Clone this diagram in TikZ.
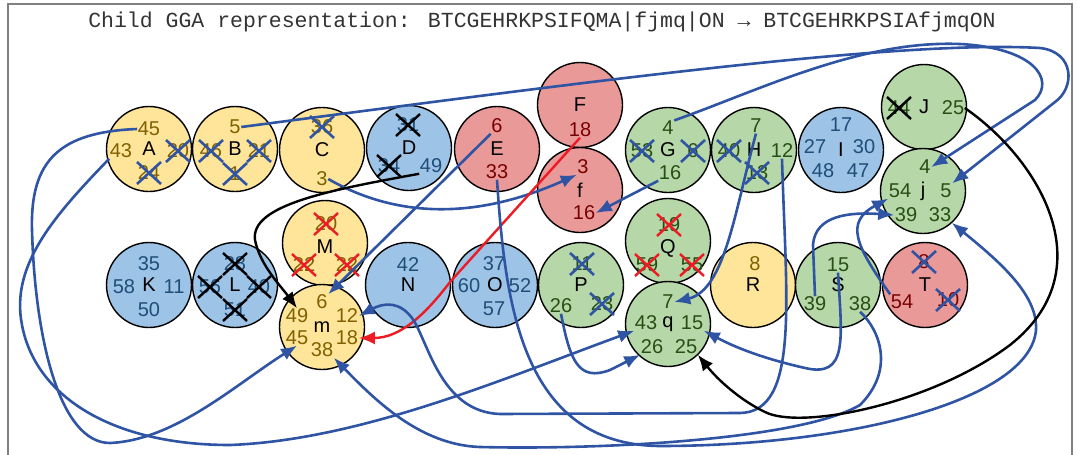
\documentclass[tikz,border=0pt]{standalone}
\usepackage{fontspec}
\setmainfont{Liberation Sans}
\newfontfamily\codefont{Liberation Mono}
\usetikzlibrary{arrows.meta}

\definecolor{ylwfill}{RGB}{255,229,153}
\definecolor{ylwtext}{RGB}{128,96,0}
\definecolor{blufill}{RGB}{157,195,230}
\definecolor{blutext}{RGB}{31,78,121}
\definecolor{redfill}{RGB}{234,153,153}
\definecolor{redtext}{RGB}{120,0,0}
\definecolor{grnfill}{RGB}{182,215,168}
\definecolor{grntext}{RGB}{39,78,19}
\definecolor{linkblue}{RGB}{47,84,164}
\definecolor{cutred}{RGB}{237,28,36}

\tikzset{
  grp/.style={circle,draw=black,line width=1.4pt,minimum size=85pt,inner sep=0pt,
    font=\fontsize{20}{20}\selectfont},
  ygrp/.style={grp,fill=ylwfill},
  bgrp/.style={grp,fill=blufill},
  rgrp/.style={grp,fill=redfill},
  ggrp/.style={grp,fill=grnfill},
  geneid/.style={inner sep=0.5pt,font=\fontsize{20}{20}\selectfont},
  yid/.style={geneid,text=ylwtext},
  bid/.style={geneid,text=blutext},
  rid/.style={geneid,text=redtext},
  gid/.style={geneid,text=grntext},
  >={Latex[length=16pt,width=13pt]},
  link/.style={->,draw=linkblue,line width=2.6pt},
  blink/.style={->,draw=black,line width=2.4pt},
  rlink/.style={->,draw=cutred,line width=2.4pt},
  xb/.style={draw=linkblue,line width=2.6pt},
  xk/.style={draw=black,line width=2.4pt},
  xr/.style={draw=cutred,line width=2.4pt}
}
% crossed-out gene id
\newcommand{\crossid}[2]{\draw[#1] (#2) +(-12,-11) -- +(12,11) +(-12,11) -- +(12,-11);}

\begin{document}
\begin{tikzpicture}[x=1pt,y=-1pt]
\useasboundingbox (0,0) rectangle (1077,455);
\draw[gray,line width=1.2pt] (8,470) -- (8,4) -- (1072,4) -- (1072,470);
\node[font=\codefont\fontsize{21.5}{21.5}\selectfont,text=black!80] (title) at (542,22)
  {Child GGA representation: BTCGEHRKPSIFQMA|fjmq|ON → BTCGEHRKPSIAfjmqON};

% groups
\node[ygrp] (A) at (149,149) {A};
\node[ygrp] (B) at (235,149) {B};
\node[ygrp] (C) at (322,150) {C};
\node[bgrp] (D) at (409,148) {D};
\node[rgrp] (E) at (497,149) {E};
\node[rgrp] (F) at (580,105) {F};
\node[rgrp] (f) at (580,190) {f};
\node[ggrp] (G) at (668,150) {G};
\node[ggrp] (H) at (754,150) {H};
\node[bgrp] (I) at (841,150) {I};
\node[ggrp] (J) at (924,107) {J};
\node[ggrp] (j) at (923,191) {j};
\node[bgrp] (K) at (149,285) {K};
\node[bgrp] (L) at (235,285) {L};
\node[ygrp] (M) at (325,243) {};
\node[ygrp] (m) at (322,327) {m};
\node[bgrp] (N) at (408,285) {N};
\node[bgrp] (O) at (495,285) {O};
\node[ggrp] (P) at (581,285) {P};
\node[ggrp] (Q) at (668,241) {};
\node[ggrp] (q) at (668,324) {q};
\node[ygrp] (R) at (753,285) {R};
\node[ggrp] (S) at (838,285) {S};
\node[rgrp] (T) at (925,285) {T};
\node[geneid] (M-name) at (325,247) {M};
\node[geneid] (Q-name) at (668,248) {Q};

% gene ids
\node[yid] (A-45) at (149,129) {45};
\node[yid] (A-43) at (121,151) {43};
\node[yid] (A-20) at (178,151) {20};
\node[yid] (A-24) at (149,173) {24};
\node[yid] (B-5) at (235,127) {5};
\node[yid] (B-46) at (211,151) {46};
\node[yid] (B-21) at (259,151) {21};
\node[yid] (B-1) at (235,174) {1};
\node[yid] (C-36) at (322,127) {36};
\node[yid] (C-3) at (322,179) {3};
\node[bid] (D-31) at (408,125) {31};
\node[bid] (D-34) at (389,166) {34};
\node[bid] (D-49) at (431,166) {49};
\node[rid] (E-6) at (497,126) {6};
\node[rid] (E-33) at (497,172) {33};
\node[rid] (F-18) at (580,130) {18};
\node[rid] (f-3) at (583,167) {3};
\node[rid] (f-16) at (584,213) {16};
\node[gid] (G-4) at (668,128) {4};
\node[gid] (G-53) at (642,151) {53};
\node[gid] (G-6) at (693,151) {6};
\node[gid] (G-16) at (670,173) {16};
\node[gid] (H-7) at (756,126) {7};
\node[gid] (H-40) at (729,151) {40};
\node[gid] (H-12) at (782,151) {12};
\node[gid] (H-13) at (757,173) {13};
\node[bid] (I-17) at (841,125) {17};
\node[bid] (I-27) at (815,147) {27};
\node[bid] (I-30) at (864,147) {30};
\node[bid] (I-48) at (823,171) {48};
\node[bid] (I-47) at (858,171) {47};
\node[gid] (J-44) at (899,108) {44};
\node[gid] (J-25) at (953,108) {25};
\node[gid] (j-4) at (925,167) {4};
\node[gid] (j-54) at (900,191) {54};
\node[gid] (j-5) at (946,191) {5};
\node[gid] (j-39) at (906,215) {39};
\node[gid] (j-33) at (940,215) {33};
\node[bid] (K-35) at (149,264) {35};
\node[bid] (K-58) at (124,287) {58};
\node[bid] (K-11) at (174,287) {11};
\node[bid] (K-50) at (149,310) {50};
\node[bid] (L-28) at (235,264) {28};
\node[bid] (L-56) at (210,287) {56};
\node[bid] (L-40) at (259,287) {40};
\node[bid] (L-51) at (235,310) {51};
\node[yid] (M-20) at (326,224) {20};
\node[yid] (M-22a) at (304,265) {22};
\node[yid] (M-22b) at (347,265) {22};
\node[yid] (m-6) at (322,302) {6};
\node[yid] (m-49) at (297,316) {49};
\node[yid] (m-12) at (347,316) {12};
\node[yid] (m-45) at (297,338) {45};
\node[yid] (m-38) at (322,350) {38};
\node[yid] (m-18) at (347,338) {18};
\node[bid] (N-42) at (408,265) {42};
\node[bid] (O-37) at (494,264) {37};
\node[bid] (O-60) at (469,286) {60};
\node[bid] (O-52) at (520,286) {52};
\node[bid] (O-57) at (494,309) {57};
\node[gid] (P-11) at (582,264) {11};
\node[gid] (P-26) at (561,306) {26};
\node[gid] (P-23) at (602,304) {23};
\node[gid] (Q-19) at (669,225) {19};
\node[gid] (Q-59) at (647,265) {59};
\node[gid] (Q-55) at (692,265) {55};
\node[gid] (q-7) at (668,302) {7};
\node[gid] (q-43) at (646,323) {43};
\node[gid] (q-15) at (692,323) {15};
\node[gid] (q-26) at (652,347) {26};
\node[gid] (q-25) at (686,347) {25};
\node[yid] (R-8) at (755,264) {8};
\node[gid] (S-15) at (838,265) {15};
\node[gid] (S-39) at (815,304) {39};
\node[gid] (S-38) at (860,304) {38};
\node[rid] (T-8) at (924,262) {8};
\node[rid] (T-54) at (902,302) {54};
\node[rid] (T-10) at (948,300) {10};

% removed ids
\crossid{xb}{A-20} \crossid{xb}{A-24}
\crossid{xb}{B-46} \crossid{xb}{B-21} \crossid{xb}{B-1}
\crossid{xb}{C-36}
\crossid{xk}{D-31} \crossid{xk}{D-34}
\crossid{xb}{G-53} \crossid{xb}{G-6}
\crossid{xb}{H-40} \crossid{xb}{H-13}
\crossid{xk}{J-44}
\crossid{xk}{L-28} \crossid{xk}{L-56} \crossid{xk}{L-40} \crossid{xk}{L-51}
\crossid{xr}{M-20} \crossid{xr}{M-22a} \crossid{xr}{M-22b}
\crossid{xb}{P-11} \crossid{xb}{P-23}
\crossid{xr}{Q-19} \crossid{xr}{Q-59} \crossid{xr}{Q-55}
\crossid{xb}{T-8} \crossid{xb}{T-10}

% links between equal ids
\draw[link] (B-5.east) .. controls (600,80) and (900,40) .. (1040,48)
  .. controls (1075,52) and (1075,88) .. (1055,102) -- (j-5.north east);
\draw[link] (G-4.north east) .. controls (760,90) and (860,40) .. (960,44)
  .. controls (1035,48) and (1055,80) .. (1035,100) -- (j-4.east);
\draw[link] (C-3.east) .. controls (400,220) and (480,218) .. (f-3.south west);
\draw[link] (G-16.south west) -- (f-16.east);
\draw[link] (E-6.south west) -- (m-6.north east);
\draw[rlink] (F-18.south) -- (450,282) .. controls (425,315) and (400,338) .. (m-18.east);
\draw[blink] (D-49.south west) .. controls (330,190) and (250,205) .. (255,240)
  .. controls (260,265) and (280,285) .. (m-49.north);
\draw[link] (H-12.south) .. controls (786,300) and (800,412) .. (740,413) -- (500,414)
  .. controls (440,412) and (428,340) .. (412,318) .. controls (400,302) and (385,302) .. (m-12.east);
\draw[link] (H-7.south) .. controls (735,210) and (725,290) .. (q-7.east);
\draw[link] (A-43.south west) .. controls (55,215) and (10,265) .. (22,325)
  .. controls (35,395) and (110,445) .. (230,445) .. controls (360,440) and (500,380) .. (q-43.south west);
\draw[link] (A-45.west) .. controls (60,132) and (30,160) .. (32,230)
  .. controls (35,340) and (60,443) .. (110,443) .. controls (175,440) and (235,385) .. (m-45.south);
\draw[link] (S-38.south) .. controls (880,330) and (895,370) .. (860,405)
  .. controls (800,440) and (600,450) .. (480,447) .. controls (420,445) and (375,400) .. (m-38.south east);
\draw[link] (E-33.south) .. controls (505,300) and (520,445) .. (660,446)
  .. controls (850,446) and (1030,400) .. (1036,330) .. controls (1038,295) and (1000,262) .. (j-33.south east);
\draw[link] (S-39.north) -- (813,245) .. controls (815,215) and (850,212) .. (j-39.west);
\draw[link] (T-54.north west) .. controls (855,245) and (845,222) .. (j-54.south west);
\draw[link] (S-15.south) .. controls (842,340) and (848,378) .. (805,368)
  .. controls (770,360) and (740,350) .. (q-15.south east);
\draw[link] (P-26.south) .. controls (570,360) and (578,382) .. (610,370) -- (q-26.south west);
\draw[blink] (J-25.east) .. controls (1040,160) and (1105,270) .. (1010,345)
  .. controls (930,405) and (800,430) .. (765,412) .. controls (740,400) and (718,380) .. (q-25.south east);
\end{tikzpicture}
\end{document}
